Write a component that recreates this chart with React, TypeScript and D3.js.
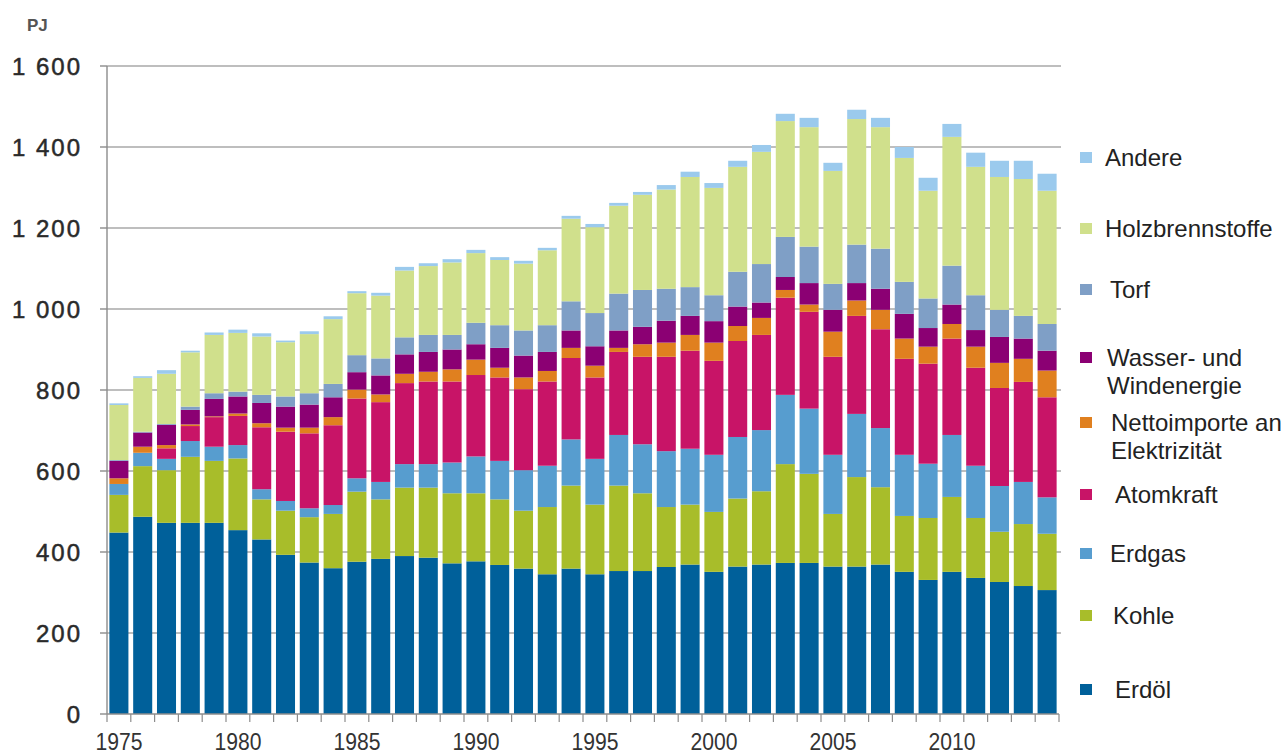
import React from "react";
import * as d3 from "d3";

const years = d3.range(1975, 2015).map(String);

// PJ per year, 1975..2014
const erdoel = [448, 487, 472, 472, 472, 454, 431, 393, 374, 360, 376, 383, 390, 386, 372, 377, 368, 359, 345, 359, 345, 353, 353, 363, 369, 351, 364, 369, 373, 373, 364, 364, 369, 351, 331, 351, 336, 326, 316, 306];
const kohle = [93, 125, 130, 163, 153, 177, 99, 109, 112, 134, 173, 147, 169, 173, 173, 168, 162, 143, 166, 205, 172, 211, 192, 148, 148, 148, 168, 181, 244, 220, 130, 221, 191, 138, 153, 185, 148, 124, 153, 139];
const erdgas = [27, 33, 28, 39, 35, 33, 25, 24, 22, 22, 33, 43, 58, 58, 76, 91, 95, 100, 102, 114, 113, 125, 121, 138, 138, 141, 152, 151, 171, 161, 146, 156, 146, 151, 134, 153, 129, 113, 104, 90];
const atomkraft = [0, 0, 26, 37, 73, 72, 153, 171, 185, 197, 197, 197, 200, 204, 200, 201, 206, 200, 208, 201, 201, 205, 216, 233, 242, 232, 237, 235, 240, 239, 242, 242, 244, 237, 247, 238, 242, 242, 247, 247];
const netto = [14, 15, 8, 4, 2, 6, 10, 10, 14, 20, 22, 19, 23, 24, 30, 38, 24, 29, 26, 25, 29, 10, 31, 35, 39, 45, 37, 42, 19, 18, 62, 38, 48, 50, 42, 36, 52, 62, 57, 66];
const wasser = [43, 35, 50, 36, 43, 42, 50, 52, 57, 49, 43, 47, 48, 49, 49, 38, 49, 54, 47, 43, 48, 43, 43, 54, 47, 53, 48, 38, 32, 53, 54, 43, 52, 61, 46, 48, 41, 64, 50, 49];
const torf = [2, 2, 2, 8, 14, 12, 20, 25, 28, 33, 42, 42, 42, 42, 36, 53, 56, 62, 66, 72, 82, 91, 91, 79, 71, 64, 86, 95, 99, 90, 64, 95, 99, 79, 73, 96, 86, 67, 56, 66];
const holz = [136, 133, 124, 134, 144, 145, 144, 134, 146, 160, 153, 155, 165, 170, 179, 172, 161, 165, 185, 204, 212, 217, 235, 245, 272, 265, 259, 277, 286, 295, 279, 310, 300, 306, 266, 318, 317, 328, 338, 329];
const andere = [4, 4, 9, 4, 6, 8, 8, 4, 7, 7, 5, 7, 9, 7, 8, 8, 7, 7, 6, 7, 8, 7, 7, 11, 13, 12, 15, 17, 18, 23, 20, 23, 23, 27, 32, 32, 35, 40, 45, 42];

const seriesKeys = ["Erdöl", "Kohle", "Erdgas", "Atomkraft", "Nettoimporte", "Wasser", "Torf", "Holz", "Andere"];
const seriesValues = [erdoel, kohle, erdgas, atomkraft, netto, wasser, torf, holz, andere];
const seriesColors = ["#00609a", "#a8bd2a", "#579dcf", "#c81467", "#e0801f", "#8b0073", "#7f9fc6", "#d0e08c", "#9bcaed"];

// legend, top to bottom
const legendItems = [
  { key: "Andere", lines: ["Andere"], y: 158, dx: 0 },
  { key: "Holz", lines: ["Holzbrennstoffe"], y: 229, dx: 0 },
  { key: "Torf", lines: ["Torf"], y: 290, dx: 5 },
  { key: "Wasser", lines: ["Wasser- und", "Windenergie"], y: 358, dx: 2 },
  { key: "Nettoimporte", lines: ["Nettoimporte an", "Elektrizität"], y: 423, dx: 6 },
  { key: "Atomkraft", lines: ["Atomkraft"], y: 495, dx: 10 },
  { key: "Erdgas", lines: ["Erdgas"], y: 554, dx: 5 },
  { key: "Kohle", lines: ["Kohle"], y: 616, dx: 8 },
  { key: "Erdöl", lines: ["Erdöl"], y: 690, dx: 10 },
];

const yTicks = [0, 200, 400, 600, 800, 1000, 1200, 1400, 1600];
const labelYears = ["1975", "1980", "1985", "1990", "1995", "2000", "2005", "2010"];

const W = 1288;
const H = 756;
const left = 107;
const right = 1059;
const top = 66;
const bottom = 714;

const rows = years.map((y, i) => {
  const r: any = { year: y };
  seriesKeys.forEach((k, j) => (r[k] = seriesValues[j][i]));
  return r;
});

const App = () => {
  const x = d3.scaleBand<string>().domain(years).range([left, right]).paddingInner(0.2).paddingOuter(0.1);
  const y = d3.scaleLinear().domain([0, 1600]).range([bottom, top]);
  const stacked = d3.stack<any>().keys(seriesKeys)(rows);
  const color = d3.scaleOrdinal<string, string>().domain(seriesKeys).range(seriesColors);
  const fmt = d3.formatLocale({ decimal: ",", thousands: " ", grouping: [3], currency: ["", ""] }).format(",d");
  const step = x.step();
  const boundaries = d3.range(years.length + 1).map((i) => left + x.paddingOuter() * step - (x.paddingInner() * step) / 2 + i * step);

  return (
    <svg width={W} height={H} style={{ position: "absolute", left: 0, top: 0, background: "#fff" }} fontFamily="'Liberation Sans', Arial, sans-serif">
      <text x={27} y={31} fontSize={17} fontWeight={600} fill="#555">PJ</text>

      {yTicks.slice(1).map((t) => (
        <line key={t} x1={left} x2={right + 2} y1={y(t)} y2={y(t)} stroke="#a8a8a8" strokeWidth={1.6} />
      ))}
      {yTicks.map((t) => (
        <g key={"yt" + t}>
          <line x1={left - 7} x2={left} y1={y(t)} y2={y(t)} stroke="#8c8c8c" strokeWidth={1.4} />
          <text x={82} y={y(t) + 8.5} textAnchor="end" fontSize={24} letterSpacing={2} fill="#2a2a2a" stroke="#2a2a2a" strokeWidth={0.5}>{fmt(t)}</text>
        </g>
      ))}

      {stacked.map((s) => (
        <g key={s.key} fill={color(s.key)}>
          {s.map((d) => (
            <rect key={d.data.year} x={x(d.data.year)} width={x.bandwidth()} y={y(d[1])} height={Math.max(0, y(d[0]) - y(d[1]))} />
          ))}
        </g>
      ))}

      <line x1={left} x2={left} y1={top} y2={bottom} stroke="#8c8c8c" strokeWidth={1.4} />
      <line x1={left} x2={right} y1={bottom} y2={bottom} stroke="#8c8c8c" strokeWidth={1.4} />
      {boundaries.map((b, i) => (
        <line key={"xt" + i} x1={b} x2={b} y1={bottom} y2={bottom + 8} stroke="#8c8c8c" strokeWidth={1.2} />
      ))}
      {labelYears.map((yr) => (
        <text key={yr} transform={`translate(${(x(yr) as number) + x.bandwidth() / 2},750) scale(0.88,1)`} textAnchor="middle" fontSize={24} fill="#333">{yr}</text>
      ))}

      {legendItems.map((it) => (
        <g key={it.key}>
          <rect x={1080} y={it.y - 6} width={12} height={11} fill={color(it.key)} />
          {it.lines.map((ln, j) => (
            <text key={j} x={1105 + it.dx} y={it.y + 8 + j * 28} fontSize={24} fill="#222">{ln}</text>
          ))}
        </g>
      ))}
    </svg>
  );
};

export default App;
